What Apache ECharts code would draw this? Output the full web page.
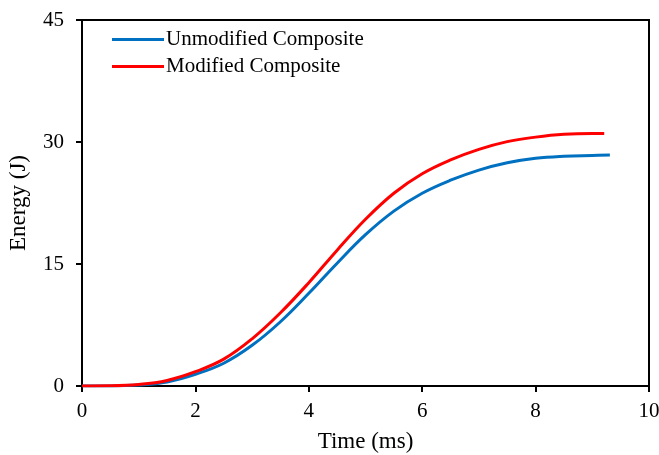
<!DOCTYPE html>
<html>
<head>
<meta charset="utf-8">
<script src="https://cdn.jsdelivr.net/npm/echarts@6/dist/echarts.min.js"></script>
<style>
  html, body { margin: 0; padding: 0; background: #fff; }
  #chart { width: 659px; height: 455px; }
</style>
</head>
<body>
<div id="chart"></div>
<script>
var seriesNames = ['Unmodified Composite', 'Modified Composite'];
var timeUnmod = [0, 0.5, 1.0, 1.5, 2.0, 2.5, 3.0, 3.5, 4.0, 4.5, 5.0, 5.5, 6.0, 6.5, 7.0, 7.5, 8.0, 8.5, 9.0, 9.31];
var energyUnmod = [0, 0.01, 0.12, 0.5, 1.44, 2.8, 5.0, 7.9, 11.4, 15.1, 18.6, 21.5, 23.7, 25.3, 26.55, 27.45, 28.0, 28.25, 28.35, 28.4];
var timeMod = [0, 0.5, 1.0, 1.5, 2.0, 2.5, 3.0, 3.5, 4.0, 4.5, 5.0, 5.5, 6.0, 6.5, 7.0, 7.5, 8.0, 8.5, 9.0, 9.21];
var energyMod = [0, 0.02, 0.18, 0.68, 1.76, 3.3, 5.8, 9.0, 12.7, 16.7, 20.5, 23.7, 26.1, 27.8, 29.1, 30.05, 30.6, 30.95, 31.05, 31.05];
var xTicks = [0, 10, 2];
var yTicks = [0, 45, 15];

var pairs = function (xs, ys) {
    var out = [];
    for (var i = 0; i < xs.length; i++) {
        out.push([xs[i], ys[i]]);
    }
    return out;
};

var font = 'Liberation Serif';
var chart = echarts.init(document.getElementById('chart'));

var option = {
    animation: false,
    textStyle: {fontFamily: font},
    grid: {
        left: 82, right: 10, top: 20, bottom: 69,
        outerBoundsMode: 'none',
        show: true, borderColor: '#000', borderWidth: 2
    },
    legend: {
        orient: 'vertical',
        left: 107, top: 24,
        itemWidth: 52, itemHeight: 3,
        itemGap: 6,
        icon: 'rect',
        textStyle: {fontFamily: font, fontSize: 21, color: '#000', padding: [0, 0, 0, -3]},
        data: seriesNames
    },
    xAxis: {
        type: 'value',
        min: xTicks[0], max: xTicks[1], interval: xTicks[2],
        name: 'Time (ms)',
        nameLocation: 'middle',
        nameGap: 44,
        nameTextStyle: {fontFamily: font, fontSize: 23, color: '#000'},
        axisLine: {lineStyle: {color: '#000', width: 2}},
        axisTick: {inside: false, length: 6, lineStyle: {color: '#000', width: 2}},
        axisLabel: {fontFamily: font, fontSize: 21, color: '#000', margin: 15},
        splitLine: {show: false}
    },
    yAxis: {
        type: 'value',
        min: yTicks[0], max: yTicks[1], interval: yTicks[2],
        name: 'Energy (J)',
        nameLocation: 'middle',
        nameGap: 52,
        nameTextStyle: {fontFamily: font, fontSize: 23, color: '#000'},
        axisLine: {show: true, lineStyle: {color: '#000', width: 2}},
        axisTick: {show: true, inside: false, length: 6, lineStyle: {color: '#000', width: 2}},
        axisLabel: {fontFamily: font, fontSize: 21, color: '#000', margin: 18},
        splitLine: {show: false}
    },
    series: [
        {
            name: seriesNames[0],
            type: 'line',
            smooth: 0.4,
            showSymbol: false,
            color: '#0070C0',
            lineStyle: {width: 3, color: '#0070C0'},
            data: pairs(timeUnmod, energyUnmod)
        },
        {
            name: seriesNames[1],
            type: 'line',
            smooth: 0.4,
            showSymbol: false,
            color: '#FF0000',
            lineStyle: {width: 3, color: '#FF0000'},
            data: pairs(timeMod, energyMod)
        }
    ]
};
chart.setOption(option);
</script>
</body>
</html>
